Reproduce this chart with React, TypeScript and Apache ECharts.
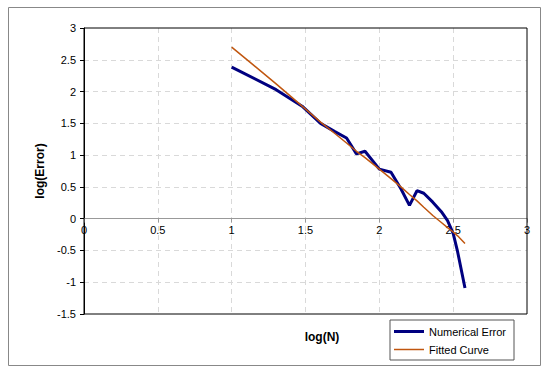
import React, { useEffect, useRef } from "react";
import * as echarts from "echarts";

const xTicks = [0, 0.5, 1, 1.5, 2, 2.5, 3];
const yTicks = [-1.5, -1, -0.5, 0, 0.5, 1, 1.5, 2, 2.5, 3];

const errorX = [1.0, 1.301, 1.477, 1.602, 1.699, 1.778, 1.845, 1.903, 2.0, 2.079, 2.146, 2.204, 2.255, 2.301, 2.362, 2.42, 2.462, 2.5, 2.53, 2.58];
const errorY = [2.385, 2.03, 1.77, 1.5, 1.37, 1.27, 1.02, 1.06, 0.78, 0.73, 0.47, 0.21, 0.44, 0.4, 0.26, 0.11, -0.03, -0.23, -0.52, -1.09];

const fitX = [1.0, 1.146, 1.301, 1.477, 1.602, 1.699, 1.778, 1.845, 1.903, 2.0, 2.079, 2.146, 2.204, 2.255, 2.301, 2.362, 2.42, 2.462, 2.5, 2.53, 2.58];
const fitY = [2.7, 2.42, 2.12, 1.77, 1.52, 1.34, 1.19, 1.06, 0.96, 0.78, 0.63, 0.5, 0.38, 0.28, 0.18, 0.05, -0.06, -0.14, -0.21, -0.27, -0.39];

const yMin = yTicks[0];
const yMax = yTicks[yTicks.length - 1];
const xMin = xTicks[0];
const xMax = xTicks[xTicks.length - 1];

export default function App() {
  const ref = useRef<HTMLDivElement>(null);
  useEffect(() => {
    if (!ref.current) return;
    const chart = echarts.init(ref.current, null, { renderer: "svg" });
    const font = "Liberation Sans, Arial, sans-serif";
    const gridLeft = 84;
    const gridTop = 28;
    const gridWidth = 443;
    const gridHeight = 286;
    const zeroOffset = (gridHeight * (0 - yMin)) / (yMax - yMin);
    const split = {
      show: true,
      showMinLine: false,
      showMaxLine: false,
      lineStyle: { color: "#d9d9d9", type: [5, 4] },
    };
    chart.setOption({
      animation: false,
      backgroundColor: "#fff",
      textStyle: { fontFamily: font },
      grid: {
        left: gridLeft,
        top: gridTop,
        width: gridWidth,
        height: gridHeight,
        show: false,
      },
      xAxis: {
        type: "value",
        min: xMin,
        max: xMax,
        interval: 0.5,
        offset: -zeroOffset,
        axisLine: { onZero: false, lineStyle: { color: "#999", width: 1 } },
        axisTick: { show: true, length: 4, inside: false, lineStyle: { color: "#999" } },
        axisLabel: {
          color: "#000",
          fontSize: 11,
          fontFamily: font,
          margin: 6,
          formatter: (v: number) => String(v),
        },
        splitLine: split,
      },
      yAxis: {
        type: "value",
        min: yMin,
        max: yMax,
        interval: 0.5,
        name: "log(Error)",
        nameLocation: "middle",
        nameGap: 36,
        nameTextStyle: { fontSize: 12, fontWeight: "bold", color: "#000", fontFamily: font },
        axisLine: { onZero: false, lineStyle: { color: "#000", width: 1 } },
        axisTick: { show: true, length: 4, lineStyle: { color: "#000" } },
        axisLabel: {
          color: "#000",
          fontSize: 11,
          fontFamily: font,
          margin: 8,
          formatter: (v: number) => String(v),
        },
        splitLine: split,
      },
      legend: {
        orient: "vertical",
        left: 390,
        top: 320,
        width: 144,
        height: 43,
        padding: [6, 8, 5, 4],
        itemGap: 7,
        itemWidth: 30,
        itemHeight: 10,
        borderColor: "#555",
        borderWidth: 1,
        textStyle: { fontSize: 11, color: "#000", fontFamily: font },
        data: [
          { name: "Numerical Error", icon: "path://M0,0 L30,0 L30,3 L0,3 Z" },
          { name: "Fitted Curve", icon: "path://M0,0 L30,0 L30,1.5 L0,1.5 Z" },
        ],
      },
      graphic: [
        {
          type: "rect",
          left: 6,
          top: 5,
          shape: { width: 532, height: 358 },
          style: { fill: "none", stroke: "#888", lineWidth: 1 },
          silent: true,
          z: -1,
        },
        {
          type: "rect",
          shape: { x: gridLeft, y: gridTop, width: gridWidth, height: gridHeight },
          style: { fill: "none", stroke: "#000", lineWidth: 1 },
          silent: true,
          z: 1,
        },
        {
          type: "text",
          x: 322,
          y: 337,
          style: {
            text: "log(N)",
            fontSize: 12,
            fontWeight: "bold",
            fill: "#000",
            fontFamily: font,
            align: "center",
            verticalAlign: "middle",
          },
        },
      ],
      series: [
        {
          name: "Numerical Error",
          type: "line",
          showSymbol: false,
          data: errorX.map((x, i) => [x, errorY[i]]),
          lineStyle: { color: "#000080", width: 3 },
          itemStyle: { color: "#000080" },
          z: 2,
        },
        {
          name: "Fitted Curve",
          type: "line",
          showSymbol: false,
          data: fitX.map((x, i) => [x, fitY[i]]),
          lineStyle: { color: "#C0560F", width: 1.5 },
          itemStyle: { color: "#C0560F" },
          z: 3,
        },
      ],
    });
    return () => chart.dispose();
  }, []);
  return (
    <div
      ref={ref}
      style={{ position: "fixed", left: 0, top: 0, width: 545, height: 373 }}
    />
  );
}
